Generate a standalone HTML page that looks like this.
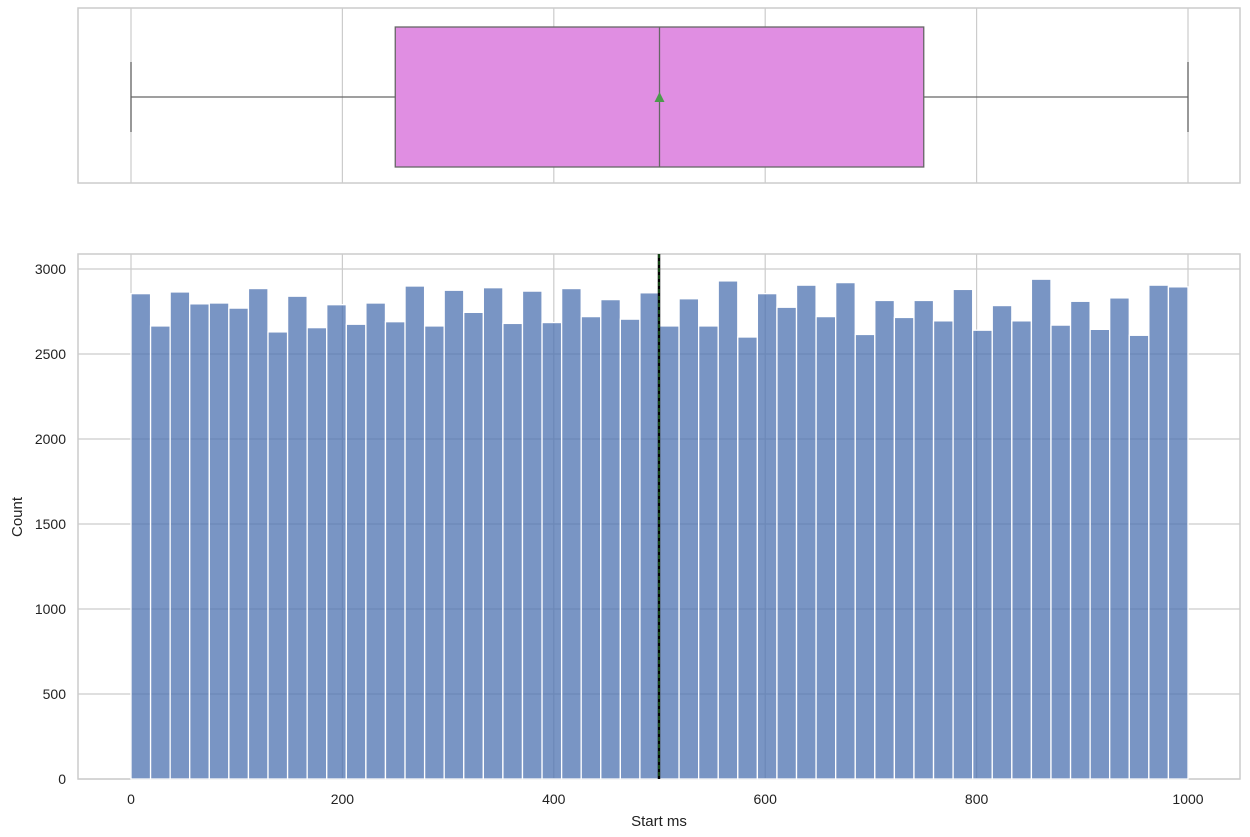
<!DOCTYPE html>
<html><head><meta charset="utf-8"><style>body{margin:0;background:#fff}svg{display:block;font-family:"Liberation Sans",sans-serif}</style></head>
<body>
<svg id="c" width="1250" height="837"></svg>
<script>
const counts=[2855,2665,2865,2795,2800,2770,2885,2630,2840,2655,2790,2675,2800,2690,2900,2665,2875,2745,2890,2680,2870,2685,2885,2720,2820,2705,2860,
2665,2825,2665,2930,2600,2855,2775,2905,2720,2920,2615,2815,2715,2815,2695,2880,2640,2785,2695,2940,2670,2810,2645,2830,2610,2905,2895];
const xTicks=[0,200,400,600,800,1000];
const yTicks=[0,500,1000,1500,2000,2500,3000];
const boxStats=[0,250,500,750,1000];
const meanVal=500;
const binMin=0, binMax=1000;
const NS="http://www.w3.org/2000/svg";
const svg=document.getElementById('c');
function el(t,a,p){const e=document.createElementNS(NS,t);for(const k in a)e.setAttribute(k,a[k]);(p||svg).appendChild(e);return e;}
const xs=v=>131+(v-0)*(1188-131)/1000;
const ys=v=>779-v*0.17;
el('rect',{x:78,y:8,width:1162,height:175,fill:'#fff',stroke:'#ccc','stroke-width':1.5});
xTicks.forEach(t=>{el('line',{x1:xs(t),x2:xs(t),y1:8,y2:183,stroke:'#ccc','stroke-width':1.2});});
let w=el('line',{x1:xs(boxStats[0]),x2:xs(boxStats[1]),y1:97,y2:97,stroke:'#666','stroke-width':1.3});

w=el('line',{x1:xs(boxStats[3]),x2:xs(boxStats[4]),y1:97,y2:97,stroke:'#666','stroke-width':1.3});

el('line',{x1:xs(boxStats[0]),x2:xs(boxStats[0]),y1:62,y2:132,stroke:'#666','stroke-width':1.3});
el('line',{x1:xs(boxStats[4]),x2:xs(boxStats[4]),y1:62,y2:132,stroke:'#666','stroke-width':1.3});
let b=el('rect',{x:xs(boxStats[1]),y:27,width:xs(boxStats[3])-xs(boxStats[1]),height:140,fill:'#e08ee2',stroke:'#666','stroke-width':1.3});

el('line',{x1:xs(boxStats[2]),x2:xs(boxStats[2]),y1:27,y2:167,stroke:'#666','stroke-width':1.3});
let m=el('polygon',{points:`${xs(meanVal)-5},102 ${xs(meanVal)+5},102 ${xs(meanVal)},92`,fill:'#4c9a4c'});

el('rect',{x:78,y:254,width:1162,height:525,fill:'#fff',stroke:'#ccc','stroke-width':1.5});
yTicks.forEach(t=>{el('line',{x1:78,x2:1240,y1:ys(t),y2:ys(t),stroke:'#ccc','stroke-width':1.2});
 const tx=el('text',{x:66,y:ys(t)+5,'text-anchor':'end','font-size':14,fill:'#222'});tx.textContent=t;
 });
xTicks.forEach(t=>{el('line',{x1:xs(t),x2:xs(t),y1:254,y2:779,stroke:'#ccc','stroke-width':1.2});
 const tx=el('text',{x:xs(t),y:804,'text-anchor':'middle','font-size':14,fill:'#222'});tx.textContent=t;
 });
const bw=(binMax-binMin)/counts.length;
counts.forEach((c,i)=>{const x0=xs(binMin+i*bw),x1=xs(binMin+(i+1)*bw);
 const r=el('rect',{x:x0,y:ys(c),width:x1-x0,height:ys(0)-ys(c),fill:'rgba(76,114,176,0.75)',stroke:'#fff','stroke-width':1.3});
 });
let ml=el('line',{x1:xs(meanVal)-0.5,x2:xs(meanVal)-0.5,y1:254,y2:779,stroke:'#000','stroke-width':2.5});

let gl=el('line',{x1:xs(meanVal)-0.5,x2:xs(meanVal)-0.5,y1:254,y2:779,stroke:'#2a8a2a','stroke-width':1,'stroke-dasharray':'4 3'});

let xl=el('text',{x:659,y:826,'text-anchor':'middle','font-size':15,fill:'#222'});xl.textContent='Start ms';

let yl=el('text',{x:22,y:517,'text-anchor':'middle','font-size':15,fill:'#222',transform:'rotate(-90 22 517)'});yl.textContent='Count';

</script>
</body></html>
